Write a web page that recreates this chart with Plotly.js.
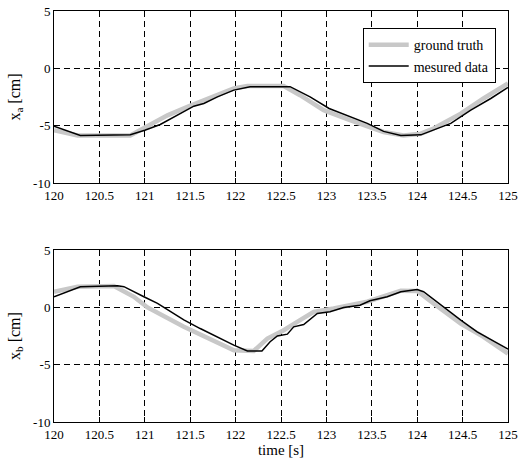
<!DOCTYPE html>
<html>
<head>
<meta charset="utf-8">
<script src="https://cdn.plot.ly/plotly-3.0.1.min.js"></script>
<style>
  body { margin: 0; background: #fff; }
  #plot { width: 526px; height: 458px; }
</style>
</head>
<body>
<div id="plot"></div>
<script>
// top panel, x_a
var tA_truth = [120, 120.26, 120.84, 120.95, 121.03, 121.25, 121.47, 121.69, 121.98, 122.13, 122.53, 122.71, 122.97, 123.26, 123.63, 123.85, 124.04, 124.18, 124.48, 124.73, 125];
var xA_truth = [-5.4, -5.85, -5.85, -5.4, -5.1, -4.1, -3.36, -2.63, -1.76, -1.55, -1.55, -2.34, -3.65, -4.52, -5.55, -5.85, -5.7, -5.25, -3.95, -2.63, -1.32];

var tA_meas = [120, 120.29, 120.84, 121.0, 121.17, 121.39, 121.54, 121.65, 121.8, 121.98, 122.16, 122.6, 122.82, 123.03, 123.26, 123.45, 123.63, 123.82, 124.04, 124.18, 124.37, 124.59, 124.81, 125];
var xA_meas = [-5.05, -5.85, -5.8, -5.4, -4.9, -3.95, -3.3, -3.07, -2.49, -1.9, -1.6, -1.6, -2.49, -3.5, -4.23, -4.8, -5.5, -5.85, -5.8, -5.4, -4.8, -3.65, -2.63, -1.67];

// bottom panel, x_b
var tB_truth = [120, 120.26, 120.66, 120.88, 121.03, 121.43, 121.98, 122.2, 122.35, 122.53, 122.71, 122.86, 123.08, 123.45, 123.82, 124.0, 124.18, 124.48, 124.73, 125];
var xB_truth = [1.36, 1.8, 1.85, 0.92, -0.01, -1.7, -3.74, -3.8, -2.72, -2.0, -1.12, -0.39, -0.1, 0.49, 1.45, 1.42, 0.34, -1.41, -2.57, -4.03];

var tB_meas = [120, 120.15, 120.29, 120.7, 120.77, 120.99, 121.14, 121.43, 121.61, 121.98, 122.13, 122.29, 122.38, 122.46, 122.57, 122.64, 122.75, 122.9, 123.04, 123.19, 123.37, 123.48, 123.67, 123.82, 124.0, 124.07, 124.26, 124.48, 124.66, 125];
var xB_meas = [0.92, 1.36, 1.8, 1.88, 1.8, 0.92, 0.34, -1.1, -1.85, -3.3, -3.8, -3.8, -3.0, -2.5, -2.34, -1.7, -1.5, -0.53, -0.39, -0.01, 0.19, 0.57, 0.92, 1.36, 1.56, 1.36, 0.19, -1.12, -2.14, -3.65];

var xTicks = [120, 120.5, 121, 121.5, 122, 122.5, 123, 123.5, 124, 124.5, 125];
var yTicks = [-10, -5, 0, 5];
var yTickText = ["-10", "-5", "0", "5"];

var serif = "Liberation Serif, DejaVu Serif, serif";
var gray = "#c8c8c8";

var traces = [
    {x: tA_truth, y: xA_truth, type: 'scatter', mode: 'lines', name: 'ground truth',
     line: {color: gray, width: 4.5}, xaxis: 'x', yaxis: 'y'},
    {x: tA_meas, y: xA_meas, type: 'scatter', mode: 'lines', name: 'mesured data',
     line: {color: 'black', width: 1.5}, xaxis: 'x', yaxis: 'y'},
    {x: tB_truth, y: xB_truth, type: 'scatter', mode: 'lines', showlegend: false,
     line: {color: gray, width: 4.5}, xaxis: 'x2', yaxis: 'y2'},
    {x: tB_meas, y: xB_meas, type: 'scatter', mode: 'lines', showlegend: false,
     line: {color: 'black', width: 1.5}, xaxis: 'x2', yaxis: 'y2'}
];

function xax(anchor) {
    return {
        anchor: anchor,
        range: [120, 125],
        tickvals: xTicks,
        ticks: 'inside', ticklen: 5, tickcolor: 'black',
        showline: true, linecolor: 'black', linewidth: 1, mirror: 'ticks',
        showgrid: true, gridcolor: 'black', gridwidth: 1, griddash: '6px,4px',
        zeroline: false,
        tickfont: {family: serif, size: 13, color: 'black'}
    };
}

function yax(anchor, domain, title) {
    return {
        anchor: anchor,
        domain: domain,
        range: [-10, 5],
        tickvals: yTicks,
        ticktext: yTickText,
        ticks: 'inside', ticklen: 5, tickcolor: 'black',
        showline: true, linecolor: 'black', linewidth: 1, mirror: 'ticks',
        showgrid: true, gridcolor: 'black', gridwidth: 1, griddash: '6px,4px',
        zeroline: false,
        tickfont: {family: serif, size: 13, color: 'black'},
        title: {text: title, font: {family: serif, size: 16, color: 'black'}, standoff: 8}
    };
}

var bottomX = xax('y2');
bottomX.title = {text: 'time [s]', font: {family: serif, size: 15, color: 'black'}, standoff: 2};

var layout = {
    width: 526, height: 458,
    margin: {l: 54, r: 18, t: 11, b: 36},
    paper_bgcolor: 'white',
    plot_bgcolor: 'white',
    showlegend: true,
    legend: {
        x: 0.68, y: 0.958, xanchor: 'left', yanchor: 'top',
        bgcolor: 'white', bordercolor: 'black', borderwidth: 1,
        font: {family: serif, size: 14, color: 'black'},
        itemwidth: 40,
        tracegroupgap: 0
    },
    xaxis: xax('y'),
    yaxis: yax('x', [0.5815, 1], 'x<sub>a</sub> [cm]'),
    xaxis2: bottomX,
    yaxis2: yax('x2', [0, 0.4185], 'x<sub>b</sub> [cm]')
};

Plotly.newPlot('plot', traces, layout, {displayModeBar: false, staticPlot: true});
</script>
</body>
</html>
